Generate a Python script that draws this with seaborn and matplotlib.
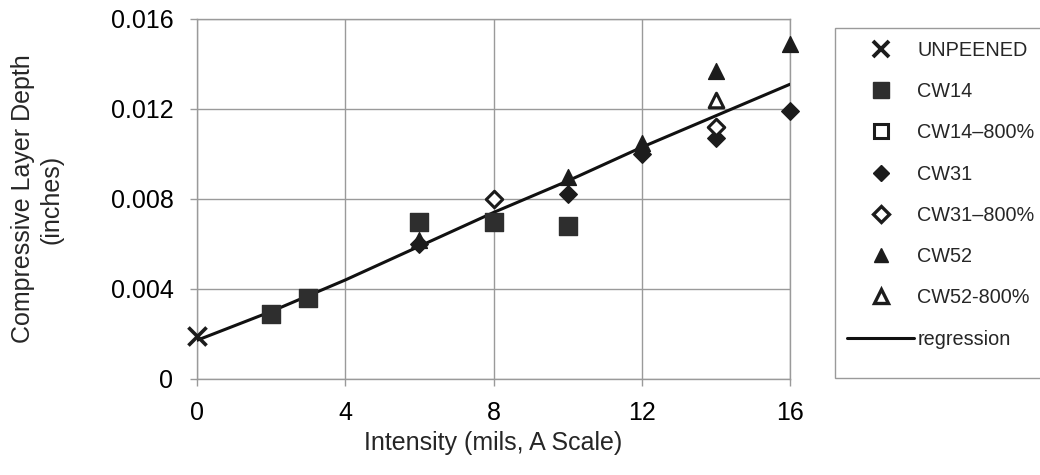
import matplotlib
matplotlib.use("Agg")
import matplotlib.pyplot as plt
import seaborn as sns
import pandas as pd
from matplotlib.lines import Line2D
from matplotlib.patches import Rectangle

sns.set_theme(style="white")
plt.rcParams['font.family'] = ['Liberation Sans', 'DejaVu Sans']

# ---- data ----
unpeened_x = [0]
unpeened_y = [0.0019]

cw14_x = [2, 3, 6, 8, 10]
cw14_y = [0.0029, 0.0036, 0.0070, 0.0070, 0.0068]

cw14_800_x = [8]
cw14_800_y = [0.0070]

cw31_x = [6, 10, 12, 14, 16]
cw31_y = [0.0060, 0.0082, 0.0100, 0.0107, 0.0119]

cw31_800_x = [8, 14]
cw31_800_y = [0.0080, 0.0112]

cw52_x = [6, 10, 12, 14, 16]
cw52_y = [0.0062, 0.0090, 0.0105, 0.0137, 0.0149]

cw52_800_x = [14]
cw52_800_y = [0.0124]

reg_x = [0, 2, 4, 6, 8, 10, 12, 14, 16]
reg_y = [0.00172, 0.0030, 0.0044, 0.0059, 0.0074, 0.0088, 0.0103, 0.0117, 0.0131]

x_ticks = [0, 4, 8, 12, 16]
y_ticks = [0, 0.004, 0.008, 0.012, 0.016]
y_tick_labels = ["0", "0.004", "0.008", "0.012", "0.016"]

labels = ["UNPEENED", "CW14", "CW14\u2013800%", "CW31", "CW31\u2013800%",
          "CW52", "CW52-800%", "regression"]

# ---- figure ----
W, H = 1040, 475
fig = plt.figure(figsize=(10.4, 4.75), dpi=100)
ax = fig.add_axes([197/W, 1 - 379/H, (790-197)/W, (379-19)/H])

dark = "#1c1c1c"
sqc = "#2e2e2e"
gridc = "#9a9a9a"

reg_df = pd.DataFrame({"x": reg_x, "y": reg_y})
sns.lineplot(data=reg_df, x="x", y="y", ax=ax, color="#111111", lw=2.2, zorder=3)

def scat(xs, ys, marker, size, face, edge, lw, z):
    df = pd.DataFrame({"x": xs, "y": ys})
    sns.scatterplot(data=df, x="x", y="y", ax=ax, marker=marker, s=size,
                    facecolor=face, edgecolor=edge, linewidth=lw, zorder=z,
                    clip_on=False)

scat(cw14_800_x, cw14_800_y, "s", 110, "white", dark, 2.0, 2)
scat(cw14_x, cw14_y, "s", 150, sqc, sqc, 1.0, 4)
scat(cw31_x, cw31_y, "D", 80, dark, dark, 1.0, 4)
scat(cw31_800_x, cw31_800_y, "D", 70, "white", dark, 2.2, 4)
scat(cw52_x, cw52_y, "^", 130, dark, dark, 1.0, 4)
scat(cw52_800_x, cw52_800_y, "^", 110, "white", dark, 2.2, 4)
scat(unpeened_x, unpeened_y, "x", 170, dark, dark, 2.6, 5)

ax.set_xlim(0, 16)
ax.set_ylim(0, 0.016)
ax.set_xticks(x_ticks)
ax.set_xticklabels([str(t) for t in x_ticks])
ax.set_yticks(y_ticks)
ax.set_yticklabels(y_tick_labels)
ax.grid(True, color=gridc, lw=1.0)
for sp in ax.spines.values():
    sp.set_color(gridc)
    sp.set_linewidth(1.0)
ax.tick_params(axis="both", labelsize=18, colors=gridc, labelcolor="black",
               length=5, width=1.0, direction="out", left=True, bottom=True)
ax.tick_params(axis="y", pad=12)
ax.tick_params(axis="x", pad=11)
ax.set_xlabel("Intensity (mils, A Scale)", fontsize=18, labelpad=4)
ax.set_ylabel("Compressive Layer Depth\n(inches)", fontsize=18, labelpad=34,
              linespacing=1.2)

# legend frame (extends past the right edge, as in the reference)
fig.patches.append(Rectangle((835/W, 1 - 378/H), (1045-835)/W, (378-28)/H,
                             transform=fig.transFigure, facecolor="white",
                             edgecolor=gridc, lw=1.0, zorder=0))

handles = [
    Line2D([], [], ls="none", marker="x", ms=12, mew=2.8, color=dark),
    Line2D([], [], ls="none", marker="s", ms=11, mfc=sqc, mec=sqc),
    Line2D([], [], ls="none", marker="s", ms=10, mfc="white", mec=dark, mew=2.2),
    Line2D([], [], ls="none", marker="D", ms=8, mfc=dark, mec=dark),
    Line2D([], [], ls="none", marker="D", ms=8, mfc="white", mec=dark, mew=2.4),
    Line2D([], [], ls="none", marker="^", ms=10, mfc=dark, mec=dark),
    Line2D([], [], ls="none", marker="^", ms=10, mfc="white", mec=dark, mew=2.4),
    Line2D([], [], color="#111111", lw=2.2),
]
leg = fig.legend(handles, labels, loc="upper left",
                 bbox_to_anchor=(835/W, 1 - 29/H), fontsize=14.3,
                 frameon=False, labelspacing=1.12, handlelength=3.4,
                 handletextpad=0.15, borderpad=0.6, borderaxespad=0)

fig.savefig("out.png", dpi=100)
